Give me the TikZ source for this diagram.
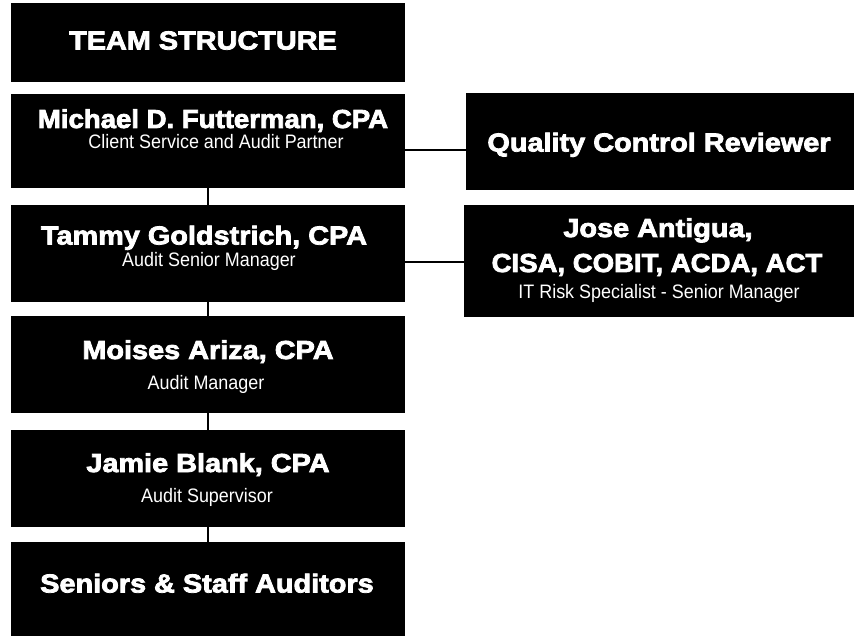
\documentclass[tikz,border=0pt]{standalone}
\usepackage{fontspec}
\setmainfont{Liberation Sans}
\newfontfamily\heavy[FakeBold=3,FakeStretch=1.11]{Liberation Sans}
\newfontfamily\heavyn[FakeBold=3,FakeStretch=1.06]{Liberation Sans}
\newfontfamily\cond[FakeStretch=0.92]{Liberation Sans}
\begin{document}
\begin{tikzpicture}[x=1pt,y=-1pt,
  box/.style={fill=black, draw=none, inner sep=0pt, outer sep=0pt},
  ttl/.style={text=white, anchor=base, inner sep=0pt, font=\heavy\bfseries\fontsize{26}{26}\selectfont},
  ttln/.style={ttl, font=\heavyn\bfseries\fontsize{26}{26}\selectfont},
  sub/.style={text=white, anchor=base, inner sep=0pt, font=\cond\fontsize{19.5}{19.5}\selectfont},
  link/.style={line width=2pt, draw=black},
  vlink/.style={line width=2.5pt, draw=black}]
\useasboundingbox (0,0) rectangle (854,636);
% left column boxes
\node[box, minimum width=394pt, minimum height=79pt] (b1) at (208,42.5) {};
\node[box, minimum width=394pt, minimum height=94pt] (b2) at (208,141) {};
\node[box, minimum width=394pt, minimum height=97pt] (b3) at (208,253.5) {};
\node[box, minimum width=394pt, minimum height=97pt] (b4) at (208,364.5) {};
\node[box, minimum width=394pt, minimum height=97pt] (b5) at (208,478.5) {};
\node[box, minimum width=394pt, minimum height=94pt] (b6) at (208,589) {};
% right boxes
\node[box, minimum width=388pt, minimum height=97pt] (qc) at (660,141.5) {};
\node[box, minimum width=390pt, minimum height=112pt] (jo) at (659,261) {};
% texts
\node[ttl] (t1) at (203,49.5) {TEAM STRUCTURE};
\node[ttln] (t2a) at (213,128) {Michael D. Futterman, CPA};
\node[sub] (t2b) at (216,149) {Client Service and Audit Partner};
\node[ttl] (t3a) at (204,244.5) {Tammy Goldstrich, CPA};
\node[sub] (t3b) at (209,267) {Audit Senior Manager};
\node[ttl] (t4a) at (208,359) {Moises Ariza, CPA};
\node[sub] (t4b) at (206,389) {Audit Manager};
\node[ttl] (t5a) at (208,472) {Jamie Blank, CPA};
\node[sub] (t5b) at (207,502) {Audit Supervisor};
\node[ttl] (t6) at (207,592.5) {Seniors \& Staff Auditors};
\node[ttl] (tq) at (659,151.5) {Quality Control Reviewer};
\node[ttl] (tja) at (658,237) {Jose Antigua,};
\node[ttln] (tjb) at (657,272) {CISA, COBIT, ACDA, ACT};
\node[sub] (tjc) at (659,299) {IT Risk Specialist - Senior Manager};
% connectors
\draw[vlink] (b2.south) -- (b3.north);
\draw[vlink] (b3.south) -- (b4.north);
\draw[vlink] (b4.south) -- (b5.north);
\draw[vlink] (b5.south) -- (b6.north);
\draw[link] ([yshift=-9pt]b2.east) -- ([yshift=-8.5pt]qc.west);
\draw[link] ([yshift=-8.5pt]b3.east) -- ([yshift=-1pt]jo.west);
\end{tikzpicture}
\end{document}
